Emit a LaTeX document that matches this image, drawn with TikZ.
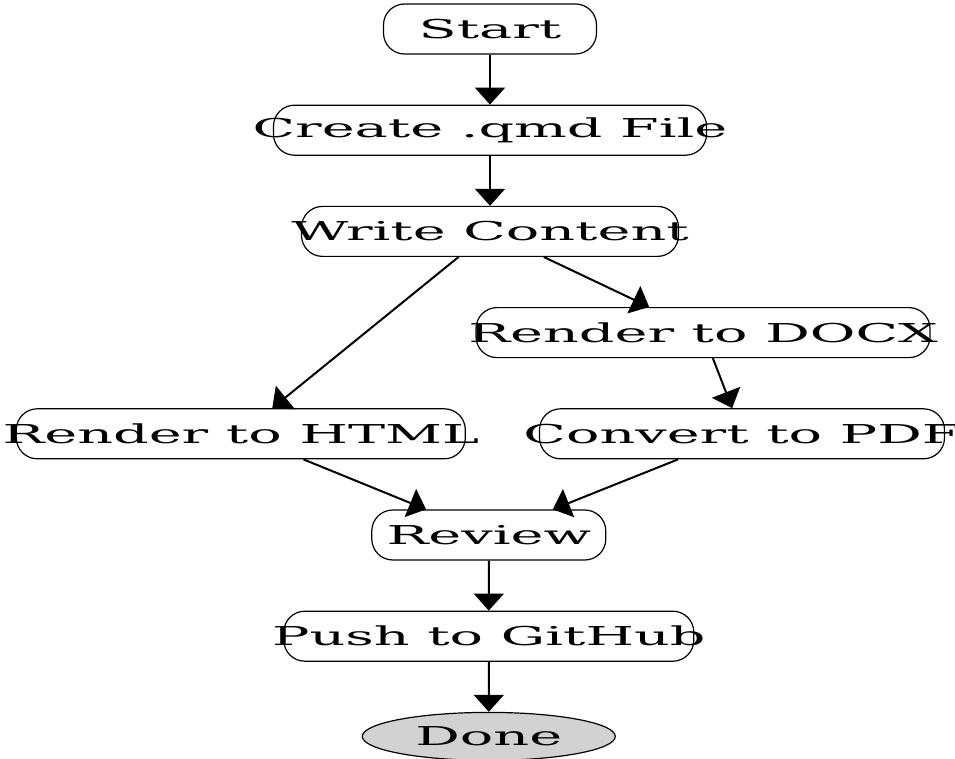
\documentclass[tikz,border=0pt]{standalone}
\usepackage{fontspec}
\newfontfamily\flowfont{DejaVu Serif}[FakeStretch=2.14]
\usetikzlibrary{arrows.meta, positioning, shapes.geometric}

\begin{document}
\begin{tikzpicture}[x=1pt, y=-1pt, >={Triangle[length=17pt, width=30pt]}, node distance=50pt,
  every node/.style={font=\flowfont\fontsize{26}{28}\selectfont},
  stepbox/.style={draw, rounded corners=21pt, line width=1.2pt, minimum height=50pt, inner xsep=-250pt},
  endbox/.style={draw, ellipse, fill=gray!35, line width=1.2pt, minimum height=48pt, inner xsep=-250pt},
  flow/.style={->, line width=2pt}]
  \useasboundingbox (0,0) rectangle (955,759);

  % Main line
  \node[stepbox, minimum width=213pt] (start) at (490,29) {Start};
  \node[stepbox, minimum width=433pt, below=of start] (create) {Create .qmd File};
  \node[stepbox, minimum width=377pt, below=of create] (write) {Write Content};

  % Two outputs
  \node[stepbox, minimum width=454pt, below=of write, xshift=213pt] (docx) {Render to DOCX};
  \node[stepbox, minimum width=405pt, below=of docx, xshift=39pt] (pdf) {Convert to PDF};
  \node[stepbox, minimum width=449pt, left=73pt of pdf] (html) {Render to HTML};

  % Back together
  \node[stepbox, minimum width=234pt, below=of html, xshift=248pt] (review) {Review};
  \node[stepbox, minimum width=410pt, below=of review] (push) {Push to GitHub};
  \node[endbox, minimum width=253pt, below=of push] (done) {Done};

  \draw[flow] (start) -- (create);
  \draw[flow] (create) -- (write);
  \draw[flow] (write) -- (html);
  \draw[flow] (write) -- (docx);
  \draw[flow] (docx) -- (pdf);
  \draw[flow] (html) -- (review);
  \draw[flow] (pdf) -- (review);
  \draw[flow] (review) -- (push);
  \draw[flow] (push) -- (done);
\end{tikzpicture}
\end{document}
